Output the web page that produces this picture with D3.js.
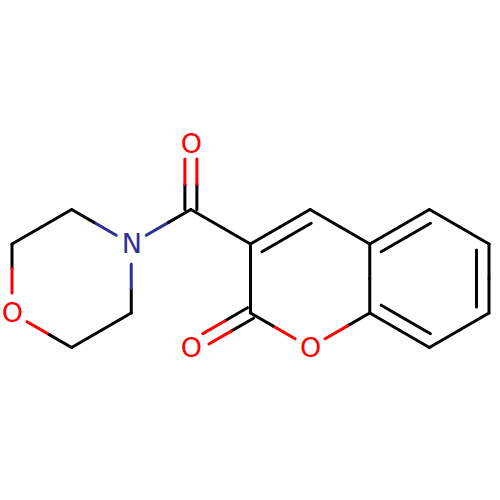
<!DOCTYPE html>
<html>
<head>
<meta charset="utf-8">
<script src="https://cdn.jsdelivr.net/npm/d3@7"></script>
<style>
  html, body { margin: 0; padding: 0; background: #fff; }
  svg { display: block; }
</style>
</head>
<body>
<svg id="chart"></svg>
<script>
// atoms, in grid units
const atomEl = ["C","C","O","C","C","N","C","O","C","C","C","C","C","C","C","C","O","C","O"];
const atomX  = [1,0,0,1,2,2,3,3,4,5,6,7,8,8,7,6,5,4,3];
const atomY  = [-1,-0.5,0.5,1,0.5,-0.5,-1,-1.95,-0.5,-1,-0.5,-1,-0.5,0.5,1,0.5,1,0.5,1];

// bonds: s = single, d = centred double, r = ring double (inner line on the right hand side)
const bondFrom = [0,1,2,3,4,5,5,6,6,8,9,10,11,12,13,14,15,16,17,17,15];
const bondTo   = [1,2,3,4,5,0,6,7,8,9,10,11,12,13,14,15,16,17,8,18,10];
const bondKind = ["s","s","s","s","s","s","s","d","s","r","s","r","s","r","s","r","s","s","s","d","s"];

const width = 500, height = 500;
const x = d3.scaleLinear().domain([0, 8]).range([12, 489]);
const y = d3.scaleLinear().domain([-1, 1]).range([209.5, 347.5]);

const color = d3.scaleOrdinal().domain(["C","N","O"]).range(["#000000","#303099","#ff0000"]);

const svg = d3.select("#chart").attr("width", width).attr("height", height);

// how far a bond stops short of a heteroatom label
function trim(ux, uy, hh) {
  return Math.min(15 / Math.max(Math.abs(ux), 1e-6), hh / Math.max(Math.abs(uy), 1e-6));
}

const segments = [];
function addLine(a, b, x1, y1, x2, y2) {
  const mx = (x1 + x2) / 2, my = (y1 + y2) / 2;
  segments.push({ x1, y1, x2: mx, y2: my, el: atomEl[a] });
  segments.push({ x1: mx, y1: my, x2, y2, el: atomEl[b] });
}

bondFrom.forEach((a, i) => {
  const b = bondTo[i], kind = bondKind[i];
  const ax = x(atomX[a]), ay = y(atomY[a]), bx = x(atomX[b]), by = y(atomY[b]);
  const len = Math.hypot(bx - ax, by - ay);
  const ux = (bx - ax) / len, uy = (by - ay) / len;
  const nx = -uy, ny = ux;
  const hh = kind === "d" ? 15 : 20;
  const ta = atomEl[a] === "C" ? 0 : trim(ux, uy, hh);
  const tb = atomEl[b] === "C" ? 0 : trim(ux, uy, hh);
  const line = (off, extra) => addLine(a, b,
    ax + ux * (ta + extra) + nx * off, ay + uy * (ta + extra) + ny * off,
    bx - ux * (tb + extra) + nx * off, by - uy * (tb + extra) + ny * off);
  if (kind === "d") {
    line(-6, 0);
    line(6, 0);
  } else {
    line(0, 0);
    if (kind === "r") line(12.5, 6);
  }
});

svg.append("g").selectAll("line")
  .data(segments)
  .join("line")
  .attr("x1", d => d.x1)
  .attr("y1", d => d.y1)
  .attr("x2", d => d.x2)
  .attr("y2", d => d.y2)
  .attr("stroke", d => color(d.el))
  .attr("stroke-width", 3)
  .attr("stroke-linecap", "round");

svg.append("g").selectAll("text")
  .data(atomEl.map((el, i) => ({ el, i })).filter(d => d.el !== "C"))
  .join("text")
  .attr("x", d => x(atomX[d.i]) + 0.5)
  .attr("y", d => y(atomY[d.i]) - 0.5)
  .attr("dy", "0.365em")
  .attr("text-anchor", "middle")
  .attr("font-family", "DejaVu Sans")
  .attr("font-size", 27)
  .attr("fill", d => color(d.el))
  .text(d => d.el);
</script>
</body>
</html>
